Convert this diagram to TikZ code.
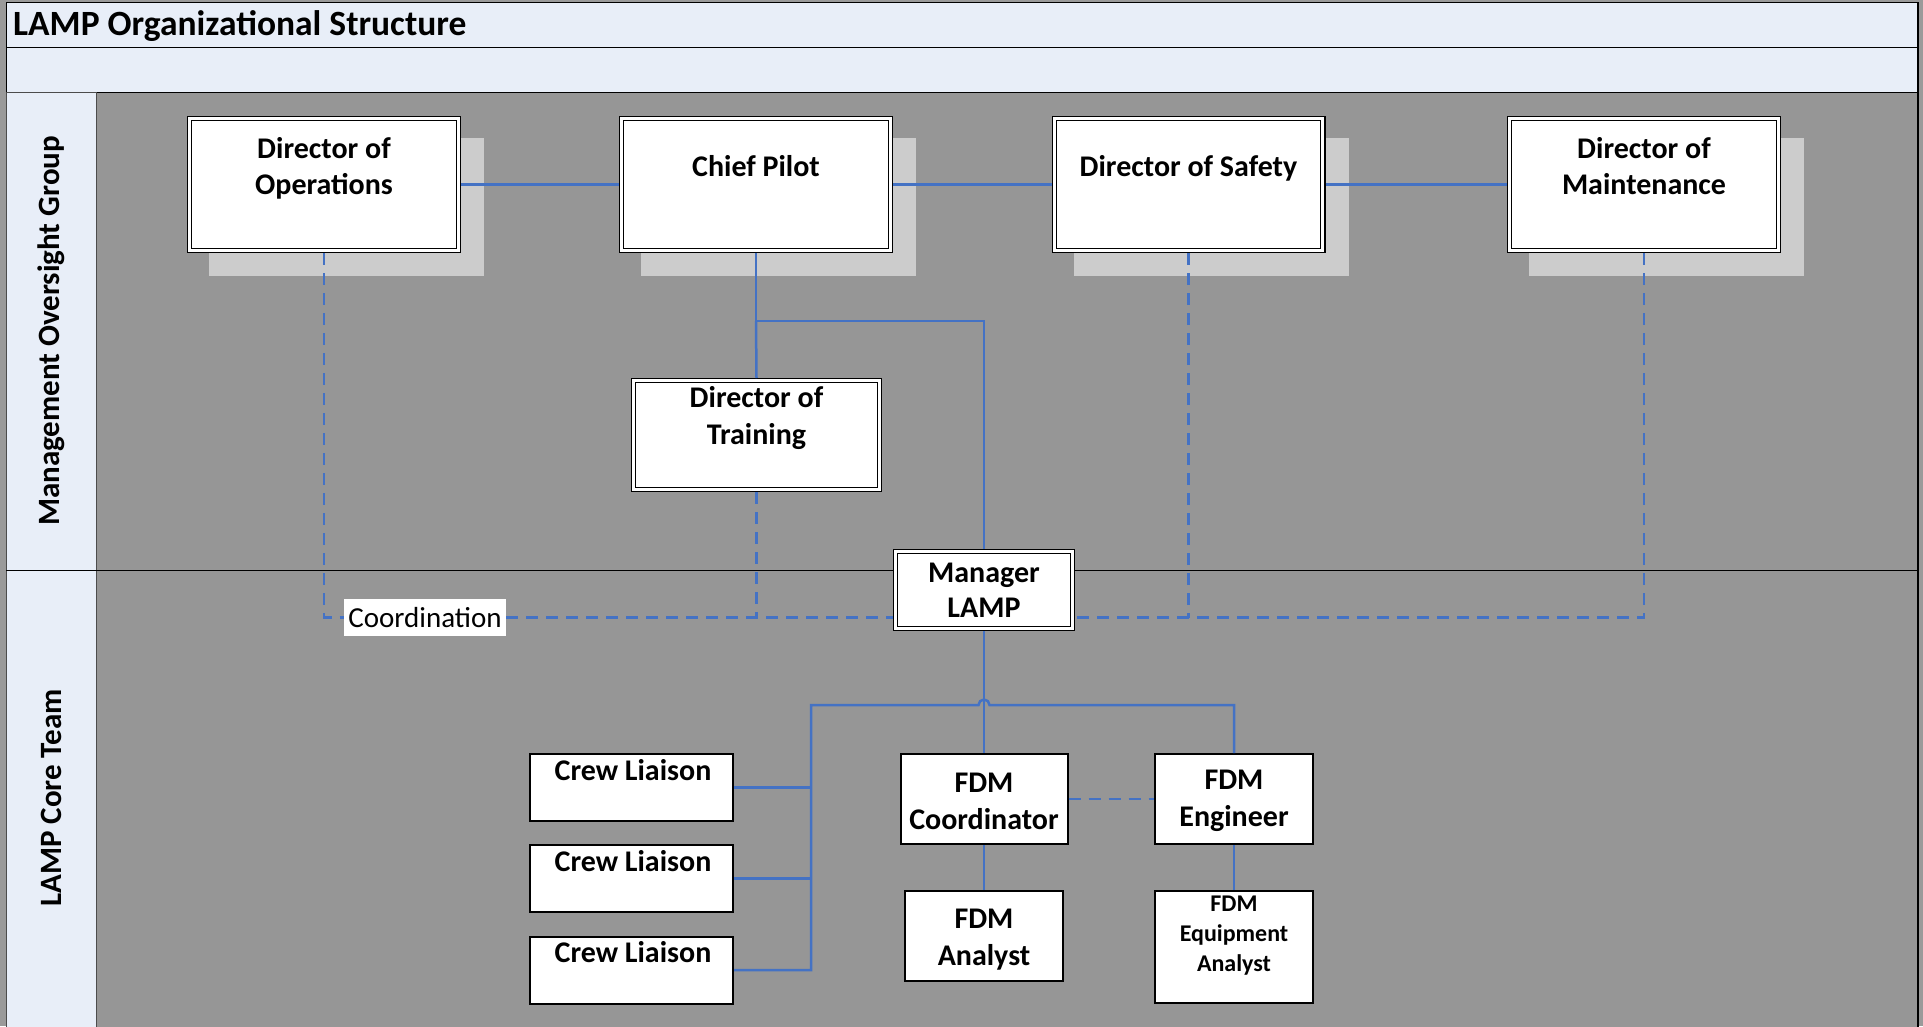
\documentclass[tikz,border=0pt]{standalone}
\usepackage{fontspec}
\setmainfont{Carlito}
\usetikzlibrary{backgrounds}
\definecolor{lightb}{HTML}{E8EEF8}
\definecolor{outergray}{HTML}{9A9A9A}
\definecolor{contentgray}{HTML}{969696}
\definecolor{shadowc}{HTML}{CCCCCC}
\definecolor{connblue}{HTML}{4472C4}
\tikzset{
  conn/.style={draw=connblue, line width=2.5pt},
  dconn/.style={conn, dash pattern=on 12pt off 8pt},
  dbox/.style={draw=black, line width=1.3pt, double=white, double distance=2.8pt, fill=white, inner sep=0pt, outer sep=2.7pt},
  sbox/.style={draw=black, line width=2pt, fill=white, inner sep=0pt, outer sep=1pt},
  btxt/.style={font=\bfseries\fontsize{30}{36}\selectfont, align=center, inner sep=0pt},
  stxt/.style={font=\bfseries\fontsize{24}{30}\selectfont, align=center, inner sep=0pt},
  lanetxt/.style={font=\bfseries\fontsize{31}{37}\selectfont, rotate=90, inner sep=0pt},
}
\begin{document}
\begin{tikzpicture}[x=1pt,y=-1pt]
\useasboundingbox (0,0) rectangle (1923,1026);
\begin{scope}[on background layer]
  \fill[outergray] (0,0) rectangle (1923,1026);
  \fill[contentgray] (96,92) rectangle (1918,1030);
  \draw[fill=lightb, line width=1pt] (6,2) rectangle (1918,47);
  \draw[fill=lightb, line width=1pt] (6,47) rectangle (1918,92);
  \draw[fill=lightb, line width=1pt, draw=black!70] (6,92) rectangle (96,570);
  \draw[fill=lightb, line width=1pt, draw=black!70] (6,570) rectangle (96,1030);
  \draw[line width=1pt] (6,570) -- (1918,570);
  \draw[line width=1.5pt] (1918,2) -- (1918,1030);
\end{scope}

% title and lanes
\node[anchor=base west, font=\bfseries\fontsize{35.5}{42}\selectfont, inner sep=0pt] (title) at (13,35) {LAMP Organizational Structure};
\node[lanetxt] (lane1) at (51,331) {Management Oversight Group};
\node[lanetxt] (lane2) at (51,798) {LAMP Core Team};

% top boxes
\node[dbox, minimum width=268.6pt, minimum height=131.6pt] (doo) at (324,184.5) {};
\node[dbox, minimum width=268.6pt, minimum height=131.6pt] (cp) at (756,184.5) {};
\node[dbox, minimum width=268.6pt, minimum height=131.6pt] (dos) at (1188.5,184.5) {};
\node[dbox, minimum width=268.6pt, minimum height=131.6pt] (dom) at (1644,184.5) {};
\node[dbox, minimum width=245.6pt, minimum height=108.6pt] (dot) at (756.5,435) {};
\node[dbox, minimum width=176.6pt, minimum height=76.6pt] (mgr) at (984,590) {};

\begin{scope}[on background layer]
  \foreach \b in {doo,cp,dos,dom}
    \fill[shadowc] ([shift={(22,22)}]\b.north west) rectangle ([shift={(23,23)}]\b.south east);
\end{scope}

% lower boxes
\node[sbox, minimum width=203pt, minimum height=67pt] (cl1) at (631.5,787.5) {};
\node[sbox, minimum width=203pt, minimum height=67pt] (cl2) at (631.5,878.5) {};
\node[sbox, minimum width=203pt, minimum height=67pt] (cl3) at (631.5,970) {};
\node[sbox, minimum width=167pt, minimum height=90pt] (fc) at (984,799) {};
\node[sbox, minimum width=158pt, minimum height=90pt] (fe) at (1234,799) {};
\node[sbox, minimum width=158pt, minimum height=90pt] (fa) at (984,936) {};
\node[sbox, minimum width=158pt, minimum height=112pt] (fea) at (1234,947) {};

% texts
\node[btxt] (doo-t) at (324,168) {Director of\\Operations};
\node[btxt] (cp-t) at (756,166.5) {Chief Pilot};
\node[btxt] (dos-t) at (1188.5,168) {Director of Safety};
\node[btxt] (dom-t) at (1644,166) {Director of\\Maintenance};
\node[btxt, font=\bfseries\fontsize{30}{37}\selectfont] (dot-t) at (756.5,418) {Director of\\Training};
\node[btxt, font=\bfseries\fontsize{30}{35}\selectfont] (mgr-t) at (984,590) {Manager\\LAMP};
\node[btxt] (cl1-t) at (633,770) {Crew Liaison};
\node[btxt] (cl2-t) at (633,861) {Crew Liaison};
\node[btxt] (cl3-t) at (633,952) {Crew Liaison};
\node[btxt, font=\bfseries\fontsize{30}{37}\selectfont] (fc-t) at (984,801) {FDM\\Coordinator};
\node[btxt, font=\bfseries\fontsize{30}{37}\selectfont] (fe-t) at (1234,801) {FDM\\Engineer};
\node[btxt, font=\bfseries\fontsize{30}{37}\selectfont] (fa-t) at (984,940) {FDM\\Analyst};
\node[stxt] (fea-t) at (1234,936) {FDM\\Equipment\\Analyst};

\node[fill=white, inner sep=0pt, minimum width=162pt, minimum height=37pt, font=\fontsize{29}{35}\selectfont] (coord) at (425,617.5) {Coordination};

% coordinates
\coordinate (bus1) at (756,321);
\coordinate (lb) at (811,705);
\coordinate (hopR) at (989.5,705);

% solid connectors
\draw[conn] (doo.east) -- (cp.west);
\draw[conn] (cp.east) -- (dos.west);
\draw[conn] (dos.east) -- (dom.west);
\draw[conn] (cp.south) -- (bus1) -| (mgr.north);
\draw[conn] (bus1) -- (dot.north);
\draw[conn] (mgr.south) -- (fc.north);
\draw[conn] (fe.north) |- (hopR) arc[start angle=0, end angle=180, radius=5.5pt] -- (lb) |- (cl3.east);
\draw[conn] (cl1.east) -- (cl1.east -| lb);
\draw[conn] (cl2.east) -- (cl2.east -| lb);
\draw[conn] (fc.south) -- (fa.north);
\draw[conn] (fe.south) -- (fea.north);

% dashed connectors
\draw[dconn] (doo.south) |- (coord.west);
\draw[dconn] (coord.east) -- (coord.east -| mgr.west);
\draw[dconn] (dot.south) -- (dot.south |- coord.east);
\draw[dconn] (dom.south) |- (coord.east -| mgr.east);
\draw[dconn] (dos.south) -- (dos.south |- coord.east);
\draw[dconn] (fc.east) -- (fe.west);
\end{tikzpicture}
\end{document}
